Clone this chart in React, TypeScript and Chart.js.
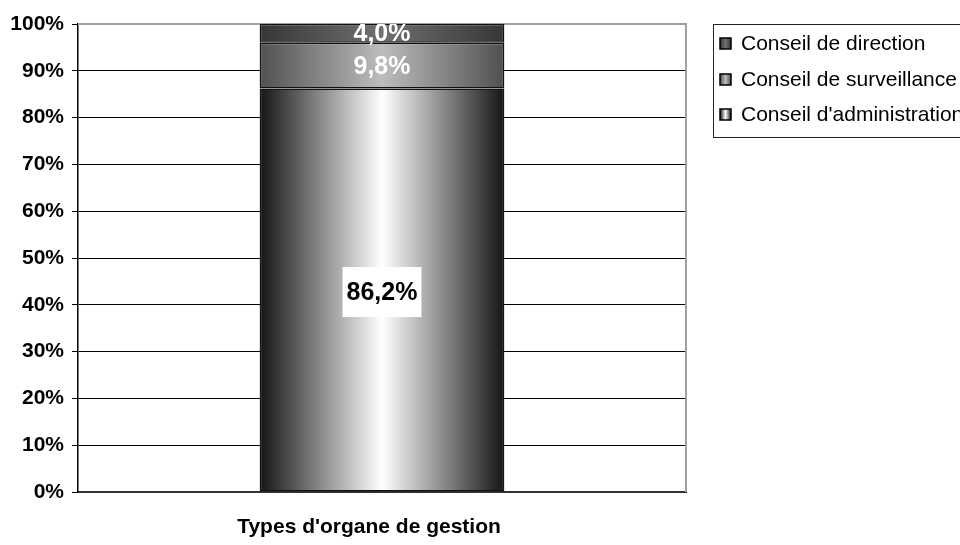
import React, { useEffect, useRef } from "react";
import { Chart, registerables } from "chart.js";

Chart.register(...registerables);

const categories = ["Types d'organe de gestion"];
const seriesNames = ["Conseil d'administration", "Conseil de surveillance", "Conseil de direction"];
const administration = [86.2];
const surveillance = [9.8];
const direction = [4.0];
const yTicks = [0, 10, 20, 30, 40, 50, 60, 70, 80, 90, 100];

const gradStops: Record<string, string[]> = {
  admin: ["#151515", "#ffffff", "#151515"],
  surv: ["#505050", "#bdbdbd", "#505050"],
  dir: ["#363636", "#707070", "#363636"],
};
const labelColors = ["#000000", "#ffffff", "#ffffff"];
const labelBg = ["#ffffff", null, null];
const BAR_FRAC = 0.4025;

function makeBarGradient(key: string) {
  return (ctx: any) => {
    const chart = ctx.chart;
    const xs = chart.scales && chart.scales.x;
    if (!chart.chartArea || !xs) return gradStops[key][1];
    const c = xs.getPixelForValue(ctx.dataIndex ?? 0);
    const catW = (xs.right - xs.left) / categories.length;
    const w = catW * BAR_FRAC;
    const g = chart.ctx.createLinearGradient(c - w / 2, 0, c + w / 2, 0);
    const s = gradStops[key];
    g.addColorStop(0, s[0]);
    g.addColorStop(0.5, s[1]);
    g.addColorStop(1, s[2]);
    return g;
  };
}

const FONT = "'Liberation Sans', Arial, sans-serif";

const frameAndLabels = {
  id: "frameAndLabels",
  beforeDatasetsDraw(chart: any) {
    const { ctx, chartArea } = chart;
    ctx.save();
    ctx.strokeStyle = "#a0a0a0";
    ctx.lineWidth = 2;
    ctx.beginPath();
    ctx.moveTo(chartArea.left, chartArea.top);
    ctx.lineTo(chartArea.right, chartArea.top);
    ctx.lineTo(chartArea.right, chartArea.bottom);
    ctx.stroke();
    ctx.restore();
  },
  afterDatasetsDraw(chart: any) {
    const { ctx, chartArea } = chart;
    ctx.save();
    ctx.beginPath();
    ctx.rect(chartArea.left, chartArea.top, chartArea.right - chartArea.left, chartArea.bottom - chartArea.top);
    ctx.clip();
    ctx.font = `bold 25px ${FONT}`;
    ctx.textAlign = "center";
    ctx.textBaseline = "middle";
    chart.data.datasets.forEach((ds: any, i: number) => {
      const meta = chart.getDatasetMeta(i);
      meta.data.forEach((el: any, j: number) => {
        const v = ds.data[j];
        const txt = v.toFixed(1).replace(".", ",") + "%";
        const cy = (el.y + el.base) / 2 + (labelBg[i] ? 2 : 0);
        if (labelBg[i]) {
          const tw = ctx.measureText(txt).width;
          ctx.fillStyle = labelBg[i];
          ctx.fillRect(el.x - tw / 2 - 4, cy - 25, tw + 8, 50);
        }
        ctx.fillStyle = labelColors[i];
        ctx.fillText(txt, el.x, cy + 1);
      });
    });
    ctx.restore();
  },
  afterDraw(chart: any) {
    const { ctx } = chart;
    ctx.save();
    // axis title
    ctx.font = `bold 21px ${FONT}`;
    ctx.fillStyle = "#000";
    ctx.textAlign = "center";
    ctx.textBaseline = "middle";
    ctx.fillText(categories[0], 369, 527);
    // legend
    ctx.strokeStyle = "#222";
    ctx.lineWidth = 1;
    ctx.strokeRect(713.5, 24.5, 260, 113);
    const items = [
      { name: seriesNames[2], key: "dir" },
      { name: seriesNames[1], key: "surv" },
      { name: seriesNames[0], key: "admin" },
    ];
    const ys = [43, 79, 114];
    ctx.font = `21px ${FONT}`;
    ctx.textBaseline = "middle";
    ctx.textAlign = "left";
    items.forEach((it, k) => {
      const y = ys[k];
      const s = gradStops[it.key];
      const g = ctx.createLinearGradient(720, 0, 731, 0);
      g.addColorStop(0, s[0]);
      g.addColorStop(0.5, s[1]);
      g.addColorStop(1, s[2]);
      ctx.fillStyle = g;
      ctx.fillRect(720, y - 5, 11, 11);
      ctx.strokeStyle = "#000";
      ctx.lineWidth = 1.5;
      ctx.strokeRect(720, y - 5, 11, 11);
      ctx.fillStyle = "#000";
      ctx.fillText(it.name, 741, y + 1);
    });
    ctx.restore();
  },
};

export default function App() {
  const ref = useRef<HTMLCanvasElement | null>(null);
  useEffect(() => {
    if (!ref.current) return;
    const chart = new Chart(ref.current, {
      type: "bar",
      data: {
        labels: categories,
        datasets: [
          {
            label: seriesNames[0],
            data: administration,
            backgroundColor: makeBarGradient("admin"),
            borderColor: "#111",
            borderWidth: 1.5,
            borderSkipped: false,
          },
          {
            label: seriesNames[1],
            data: surveillance,
            backgroundColor: makeBarGradient("surv"),
            borderColor: "#111",
            borderWidth: 1.5,
            borderSkipped: false,
          },
          {
            label: seriesNames[2],
            data: direction,
            backgroundColor: makeBarGradient("dir"),
            borderColor: "#111",
            borderWidth: 1.5,
            borderSkipped: false,
          },
        ],
      },
      options: {
        responsive: false,
        animation: false,
        layout: { autoPadding: false, padding: { left: 0, right: 274, top: 24, bottom: 0 } },
        datasets: { bar: { barPercentage: BAR_FRAC, categoryPercentage: 1 } },
        plugins: { legend: { display: false }, tooltip: { enabled: false } },
        scales: {
          x: {
            stacked: true,
            grid: { display: false },
            ticks: { display: false },
            border: { display: true, color: "#333", width: 2 },
            title: { display: false },
            afterFit: (s: any) => {
              s.height = 53;
            },
          },
          y: {
            stacked: true,
            min: 0,
            max: 100,
            afterBuildTicks: (s: any) => {
              s.ticks = yTicks.map((v) => ({ value: v }));
            },
            ticks: {
              color: "#000",
              padding: 8,
              font: { family: FONT, size: 21, weight: "bold" },
              callback: (v: any) => v + "%",
            },
            grid: {
              color: (c: any) => (c.tick && c.tick.value === 100 ? "rgba(0,0,0,0)" : "#000"),
              tickColor: "#000",
              tickLength: 6,
              lineWidth: 1,
            },
            border: { display: true, color: "#000", width: 1.5 },
            afterFit: (s: any) => {
              s.width = 78;
            },
          },
        },
      },
      plugins: [frameAndLabels],
    });
    return () => chart.destroy();
  }, []);
  return (
    <div style={{ position: "absolute", left: 0, top: 0, width: 960, height: 545, background: "#fff" }}>
      <canvas ref={ref} width={960} height={545} style={{ display: "block" }} />
    </div>
  );
}
